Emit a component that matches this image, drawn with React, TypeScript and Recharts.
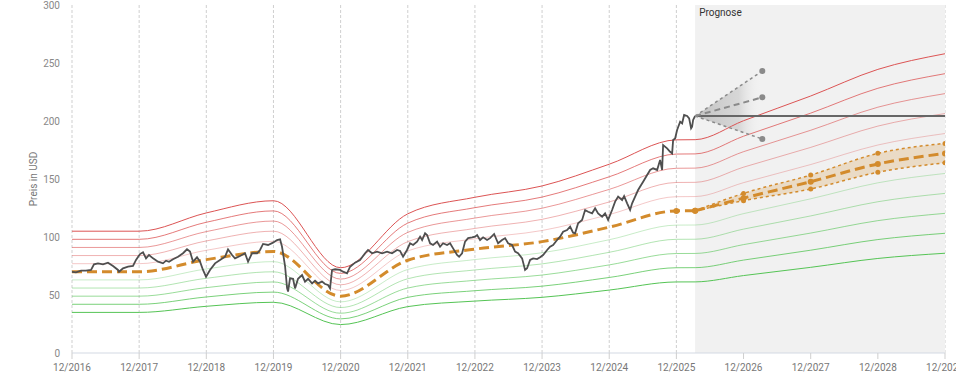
import React from 'react';
import {
  ComposedChart, Line, Area, XAxis, YAxis, CartesianGrid, ReferenceArea,
} from 'recharts';

// x values are months since 12/2016
const tickMonths = [0, 12, 24, 36, 48, 60, 72, 84, 96, 108, 120, 132, 144, 156];
const tickLabels = ['12/2016', '12/2017', '12/2018', '12/2019', '12/2020', '12/2021', '12/2022', '12/2023', '12/2024', '12/2025', '12/2026', '12/2027', '12/2028', '12/2029'];
const yTicks = [0, 50, 100, 150, 200, 250, 300];

const priceMonths = [0, 0.71, 1.61, 2.5, 3.4, 3.93, 4.65, 5.54, 6.43, 7.33, 8.22, 8.4, 9.12, 10.01, 10.9, 11.44, 12.15, 12.69, 13.23, 13.76, 14.48, 15.37, 16.26, 16.8, 17.34, 18.05, 18.95, 19.84, 20.55, 21.09, 21.63, 22.34, 22.88, 23.41, 23.95, 24.66, 25.56, 26.45, 27.35, 27.88, 28.6, 29.13, 30.03, 30.92, 31.46, 32.17, 33.07, 33.6, 34.14, 35.03, 35.92, 36.64, 37.18, 37.53, 38.07, 38.43, 38.61, 38.96, 39.5, 39.86, 40.39, 41.11, 41.64, 42.18, 42.9, 43.43, 43.97, 44.68, 45.22, 45.76, 46.11, 46.47, 47.01, 47.9, 48.44, 49.15, 49.69, 50.58, 51.47, 52.37, 52.9, 53.62, 54.51, 55.41, 56.3, 57.19, 58.09, 58.62, 59.16, 59.87, 60.41, 60.95, 61.66, 62.2, 62.56, 63.09, 63.45, 63.99, 64.52, 65.24, 65.77, 66.31, 67.02, 67.56, 68.1, 68.81, 69.17, 69.71, 70.24, 70.78, 71.49, 72.03, 72.39, 72.92, 73.46, 74.17, 74.71, 75.43, 76.14, 76.85, 77.39, 77.93, 78.64, 79.18, 79.71, 80.43, 80.96, 81.32, 81.86, 82.4, 83.11, 83.65, 84.18, 84.9, 85.43, 85.97, 86.68, 87.22, 87.76, 88.47, 89.01, 89.54, 89.9, 90.44, 91.15, 91.69, 92.23, 92.94, 93.48, 94.01, 94.73, 95.26, 95.8, 96.51, 97.05, 97.59, 98.3, 98.66, 99.2, 99.73, 100.09, 100.63, 101.16, 101.7, 102.06, 102.77, 103.31, 103.84, 104.56, 105.09, 105.45, 105.63, 106.34, 106.88, 107.24, 107.42, 107.77, 108.13, 108.67, 109.03, 109.38, 109.92, 110.28, 110.63, 110.81, 110.99, 111.35];
const priceValues = [70, 69.5, 71, 71, 71.6, 76.4, 77.3, 76.4, 77.9, 75, 71.6, 70, 73, 74.4, 75, 80.2, 85.3, 86.8, 81.6, 84.5, 81.6, 78.7, 77.3, 79.6, 78.6, 80.8, 83, 86, 89.4, 87.4, 78.7, 82.5, 78.7, 71.6, 65.8, 71.6, 77.3, 80.2, 83, 89.4, 84.5, 81.6, 83.6, 86, 78.7, 86, 86, 88.8, 94, 93.1, 95.1, 97.4, 98, 91.6, 75, 56, 53, 64.4, 64, 55.7, 64, 67.2, 61.5, 64, 60, 62.4, 60, 61.5, 59.5, 58.6, 55.7, 71.6, 72.2, 71.6, 70.1, 68.7, 74.4, 77.9, 80.2, 86, 88.8, 86, 87.4, 86, 87.4, 86, 88.8, 88, 83, 88.8, 94.6, 93.1, 96, 100.3, 97.4, 103.2, 101.7, 94.6, 93.1, 96, 91.6, 94.6, 93.1, 94.6, 90.2, 84.5, 83, 86, 96, 99, 99.7, 100.3, 101.7, 97.4, 99.7, 97.4, 99, 102.6, 94.6, 97.4, 99, 94.6, 93.1, 87.4, 86, 81.6, 71.6, 73, 80.2, 81.6, 81, 82.5, 84.5, 88.8, 91.6, 93.1, 97.4, 100.3, 104.6, 106, 108.9, 103.7, 103.2, 111.8, 114.7, 123.3, 121.8, 120.4, 124.7, 120.4, 117.5, 120.4, 114.7, 123.3, 130.5, 134.8, 131.9, 135.3, 129, 123.3, 129, 134.8, 140.5, 144.8, 147.7, 153.4, 157.8, 159.2, 157.8, 166.4, 157.8, 179.3, 176.4, 173.5, 172.1, 183.6, 185, 192.2, 199.4, 198, 205.2, 204.3, 202.3, 193.7, 195.1, 200.9, 204.3];

const fairMonths = [0, 12, 24, 36, 48, 60, 72, 84, 96, 108, 111.35];
const fairValues = [70, 70, 80.5, 87.5, 49, 80, 89.5, 96, 108.5, 122.5, 122.6];

const forecastMonths = [111.35, 120, 132, 144, 156];
const forecastMid = [122.6, 133.5, 147.7, 163, 172];
const forecastHigh = [122.6, 137.6, 153.4, 172.1, 180.7];
const forecastLow = [122.6, 131.3, 141.4, 155.8, 164];

const bandFactors = [1.5, 1.4, 1.3, 1.2, 1.1, 0.9, 0.8, 0.7, 0.6, 0.5];
const bandColors = ['#dc5454', '#dc5454', '#dc5454', '#dc5454', '#dc5454', '#55c455', '#55c455', '#55c455', '#55c455', '#55c455'];
const bandOpacities = [1, 0.78, 0.6, 0.45, 0.32, 0.32, 0.45, 0.6, 0.78, 1];

const fanMonths = [111.35, 123.35];
const fanHigh = [204.3, 243.1];
const fanMid = [204.3, 220.4];
const fanLow = [204.3, 184.5];

const currentMonths = [111.35, 156];
const currentPrice = [204.3, 204.3];

const priceData = priceMonths.map((m, i) => ({ m, v: priceValues[i] }));
const fairData = fairMonths.map((m, i) => ({ m, v: fairValues[i] }));
const bandBase = [
  ...fairMonths.map((m, i) => ({ m, v: fairValues[i] })),
  ...forecastMonths.slice(1).map((m, i) => ({ m, v: forecastMid[i + 1] })),
];
const forecastData = forecastMonths.map((m, i) => ({ m, mid: forecastMid[i], hi: forecastHigh[i], lo: forecastLow[i] }));
const fanData = fanMonths.map((m, i) => ({ m, hi: fanHigh[i], mid: fanMid[i], lo: fanLow[i] }));
const currentData = currentMonths.map((m, i) => ({ m, v: currentPrice[i] }));

const ORANGE = '#d38b2c';
const FAN = '#8a8a8a';

const fairDot = (props: any) => {
  const { cx, cy, index } = props;
  if (index < fairData.length - 2) return <g key={`fd${index}`} />;
  return <circle key={`fd${index}`} cx={cx} cy={cy} r={3} fill={ORANGE} stroke="none" />;
};
const fanEndDot = (props: any) => {
  const { cx, cy, index } = props;
  if (index === 0) return <g key={`fe${index}`} />;
  return <circle key={`fe${index}`} cx={cx} cy={cy} r={3} fill={FAN} stroke="none" />;
};
const orangeDot = (r: number) => (props: any) => {
  const { cx, cy, index } = props;
  return <circle key={`od${index}`} cx={cx} cy={cy} r={r} fill={ORANGE} stroke="none" />;
};

export default function App() {
  return (
    <div style={{ position: 'absolute', left: 0, top: 0, width: 956, height: 386, fontFamily: 'Roboto, sans-serif', background: '#fff' }}>
      <ComposedChart width={956} height={386} margin={{ top: 5, right: 11, bottom: 0, left: 0 }}>
        <defs>
          <linearGradient id="fanGrad" x1="0" y1="0" x2="1" y2="0">
            <stop offset="0%" stopColor="#9a9a9a" stopOpacity={0.55} />
            <stop offset="65%" stopColor="#b0b0b0" stopOpacity={0.4} />
            <stop offset="100%" stopColor="#ffffff" stopOpacity={0} />
          </linearGradient>
        </defs>
        <ReferenceArea x1={111.35} x2={156} y1={0} y2={300} fill="#f1f1f1" fillOpacity={1} stroke="none"
          label={{ value: 'Prognose', position: 'insideTopLeft', fill: '#333', fontSize: 10, offset: 4 }} />
        <CartesianGrid horizontal={false} stroke="#cfcfcf" strokeDasharray="3 2" />
        <XAxis type="number" dataKey="m" domain={[0, 156]} ticks={tickMonths} allowDataOverflow
          tickFormatter={(v: number) => tickLabels[tickMonths.indexOf(v)] ?? ''}
          height={33} tick={{ fill: '#777', fontSize: 10 }} tickMargin={5}
          axisLine={{ stroke: '#d3d9e3' }} tickLine={{ stroke: '#cfcfcf' }} interval={0} />
        <YAxis type="number" domain={[0, 300]} ticks={yTicks} width={72}
          tick={{ fill: '#888', fontSize: 10 }} axisLine={false} tickLine={false} tickMargin={6}
          label={{ value: 'Preis in USD', angle: -90, position: 'center', dx: -3, fill: '#777', fontSize: 10 }} />

        {bandFactors.map((f, i) => (
          <Line key={`band${i}`} data={bandBase} dataKey={(d: any) => d.v * f} type="monotone"
            stroke={bandColors[i]} strokeOpacity={bandOpacities[i]} strokeWidth={1} dot={false}
            isAnimationActive={false} />
        ))}

        <Area data={forecastData} dataKey={(d: any) => [d.lo, d.hi]} type="monotone" fill={ORANGE}
          fillOpacity={0.22} stroke="none" isAnimationActive={false} />
        <Line data={forecastData} dataKey="hi" type="monotone" stroke={ORANGE} strokeWidth={1.5}
          strokeDasharray="3 3" dot={orangeDot(2.5)} isAnimationActive={false} />
        <Line data={forecastData} dataKey="lo" type="monotone" stroke={ORANGE} strokeWidth={1.5}
          strokeDasharray="3 3" dot={orangeDot(2.5)} isAnimationActive={false} />
        <Line data={forecastData} dataKey="mid" type="monotone" stroke={ORANGE} strokeWidth={3}
          strokeDasharray="10 5" dot={orangeDot(3)} isAnimationActive={false} />
        <Line data={fairData} dataKey="v" type="monotone" stroke={ORANGE} strokeWidth={3}
          strokeDasharray="10 5" dot={fairDot} isAnimationActive={false} />

        <Line data={priceData} dataKey="v" type="linear" stroke="#4f4f4f" strokeWidth={1.8}
          dot={false} isAnimationActive={false} />
        <Line data={currentData} dataKey="v" type="linear" stroke="#666" strokeWidth={2}
          dot={false} isAnimationActive={false} />

        <Area data={fanData} dataKey={(d: any) => [d.lo, d.hi]} type="linear" fill="url(#fanGrad)"
          fillOpacity={1} stroke="none" isAnimationActive={false} />
        <Line data={fanData} dataKey="hi" type="linear" stroke={FAN} strokeWidth={1.5}
          strokeDasharray="3 3" dot={fanEndDot} isAnimationActive={false} />
        <Line data={fanData} dataKey="mid" type="linear" stroke={FAN} strokeWidth={2}
          strokeDasharray="6 4" dot={fanEndDot} isAnimationActive={false} />
        <Line data={fanData} dataKey="lo" type="linear" stroke={FAN} strokeWidth={1.5}
          strokeDasharray="3 3" dot={fanEndDot} isAnimationActive={false} />
      </ComposedChart>
    </div>
  );
}
